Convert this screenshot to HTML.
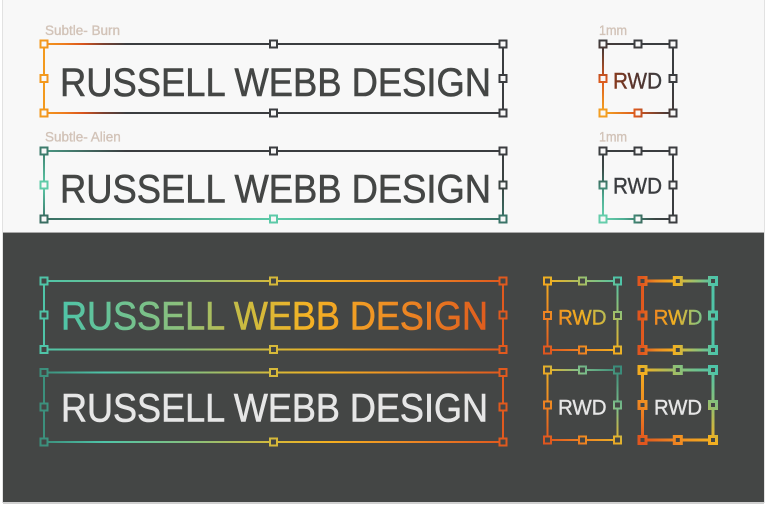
<!DOCTYPE html>
<html>
<head>
<meta charset="utf-8">
<style>
  html, body { margin: 0; padding: 0; background: #ffffff; }
  body { width: 768px; height: 509px; overflow: hidden; }
  svg { display: block; }
  text { font-family: "Liberation Sans", "DejaVu Sans", sans-serif; }
</style>
</head>
<body>
<svg width="768" height="509" viewBox="0 0 768 509" xmlns="http://www.w3.org/2000/svg">
  <defs>
    <linearGradient id="burn" gradientUnits="userSpaceOnUse" x1="44" y1="0" x2="503" y2="0">
      <stop offset="0" stop-color="#f39a1e"/>
      <stop offset="0.045" stop-color="#ee7c1f"/>
      <stop offset="0.085" stop-color="#d8541e"/>
      <stop offset="0.13" stop-color="#7a4030"/>
      <stop offset="0.18" stop-color="#3b3d40"/>
      <stop offset="1" stop-color="#3b3d40"/>
    </linearGradient>

    <linearGradient id="aTop" x1="0" y1="0" x2="1" y2="0">
      <stop offset="0" stop-color="#4a9a85"/>
      <stop offset="0.18" stop-color="#3b3d40"/>
      <stop offset="1" stop-color="#3b3d40"/>
    </linearGradient>
    <linearGradient id="aBot" x1="0" y1="0" x2="1" y2="0">
      <stop offset="0" stop-color="#3a6e62"/>
      <stop offset="0.5" stop-color="#5ccaa8"/>
      <stop offset="1" stop-color="#3a7468"/>
    </linearGradient>
    <linearGradient id="aLeft" x1="0" y1="0" x2="0" y2="1">
      <stop offset="0" stop-color="#3d7c6c"/>
      <stop offset="0.5" stop-color="#5ecba9"/>
      <stop offset="1" stop-color="#3a7468"/>
    </linearGradient>
    <linearGradient id="aRight" x1="0" y1="0" x2="0" y2="1">
      <stop offset="0" stop-color="#3b3d40"/>
      <stop offset="0.5" stop-color="#3b4442"/>
      <stop offset="1" stop-color="#3a7468"/>
    </linearGradient>

    <radialGradient id="sBurn" gradientUnits="userSpaceOnUse" cx="603" cy="113" r="75">
      <stop offset="0" stop-color="#f6a823"/>
      <stop offset="0.45" stop-color="#d9561e"/>
      <stop offset="0.85" stop-color="#4b3a36"/>
      <stop offset="1" stop-color="#3b3d40"/>
    </radialGradient>
    <linearGradient id="sBurnText" gradientUnits="userSpaceOnUse" x1="613" y1="0" x2="662" y2="0">
      <stop offset="0" stop-color="#8a3a1c"/>
      <stop offset="0.45" stop-color="#55332c"/>
      <stop offset="1" stop-color="#3b3d40"/>
    </linearGradient>
    <radialGradient id="sAlien" gradientUnits="userSpaceOnUse" cx="603" cy="219" r="70">
      <stop offset="0" stop-color="#6ad4b0"/>
      <stop offset="0.3" stop-color="#4fae94"/>
      <stop offset="0.5" stop-color="#3d7a6a"/>
      <stop offset="0.75" stop-color="#3b4544"/>
      <stop offset="1" stop-color="#3b3d40"/>
    </radialGradient>

    <linearGradient id="rb1" gradientUnits="userSpaceOnUse" x1="44" y1="0" x2="503" y2="0">
      <stop offset="0" stop-color="#4fc4a8"/>
      <stop offset="0.3" stop-color="#86c07e"/>
      <stop offset="0.5" stop-color="#d6b93a"/>
      <stop offset="0.62" stop-color="#f4b020"/>
      <stop offset="0.78" stop-color="#ee8c24"/>
      <stop offset="1" stop-color="#e0591e"/>
    </linearGradient>
    <linearGradient id="rb2" gradientUnits="userSpaceOnUse" x1="44" y1="0" x2="503" y2="0">
      <stop offset="0" stop-color="#3c8f7c"/>
      <stop offset="0.13" stop-color="#4fc4a8"/>
      <stop offset="0.32" stop-color="#86c07e"/>
      <stop offset="0.5" stop-color="#d6b93a"/>
      <stop offset="0.62" stop-color="#f4b020"/>
      <stop offset="0.78" stop-color="#ee8c24"/>
      <stop offset="1" stop-color="#e0591e"/>
    </linearGradient>
    <linearGradient id="rbText" gradientUnits="userSpaceOnUse" x1="61" y1="0" x2="488" y2="0">
      <stop offset="0" stop-color="#4fc4a8"/>
      <stop offset="0.28" stop-color="#8cc07c"/>
      <stop offset="0.43" stop-color="#ccbb40"/>
      <stop offset="0.58" stop-color="#f4b224"/>
      <stop offset="0.75" stop-color="#ef9224"/>
      <stop offset="1" stop-color="#e05c1e"/>
    </linearGradient>

    <linearGradient id="gA" gradientUnits="userSpaceOnUse" x1="547" y1="350" x2="618" y2="281">
      <stop offset="0" stop-color="#e0561e"/>
      <stop offset="0.25" stop-color="#ee8422"/>
      <stop offset="0.5" stop-color="#f2b020"/>
      <stop offset="0.75" stop-color="#a0c06a"/>
      <stop offset="1" stop-color="#4fc4a8"/>
    </linearGradient>
    <linearGradient id="gB" gradientUnits="userSpaceOnUse" x1="642" y1="0" x2="713" y2="0">
      <stop offset="0" stop-color="#e0561e"/>
      <stop offset="0.2" stop-color="#ee8a22"/>
      <stop offset="0.45" stop-color="#f2b020"/>
      <stop offset="0.7" stop-color="#a8c064"/>
      <stop offset="1" stop-color="#4fc4a8"/>
    </linearGradient>
    <linearGradient id="gC" gradientUnits="userSpaceOnUse" x1="547" y1="440" x2="618" y2="370">
      <stop offset="0" stop-color="#e0561e"/>
      <stop offset="0.3" stop-color="#f08c22"/>
      <stop offset="0.5" stop-color="#e8b028"/>
      <stop offset="0.72" stop-color="#80c08a"/>
      <stop offset="1" stop-color="#3a8c7a"/>
    </linearGradient>
    <linearGradient id="gD" gradientUnits="userSpaceOnUse" x1="642" y1="440" x2="713" y2="370">
      <stop offset="0" stop-color="#e0561e"/>
      <stop offset="0.25" stop-color="#f08a22"/>
      <stop offset="0.5" stop-color="#f2b020"/>
      <stop offset="0.75" stop-color="#90c074"/>
      <stop offset="1" stop-color="#4fc4a8"/>
    </linearGradient>
  </defs>

  <!-- card backgrounds -->
  <rect x="2" y="0" width="763" height="503" fill="#e2e2e2"/>
  <rect x="3" y="0" width="761" height="232" fill="#f8f8f8"/>
  <rect x="3" y="232" width="761" height="1" fill="#a9a9a9"/>
  <rect x="3" y="233" width="761" height="269" fill="#444645"/>
  <rect x="3" y="502" width="761" height="2" fill="#d0d0d0"/>

  <!-- labels -->
  <g fill="#d2c3b8" stroke="#d2c3b8" stroke-width="0.35">
    <text x="45" y="35" font-size="13.5">Subtle- Burn</text>
    <text x="45" y="141.5" font-size="13.5">Subtle- Alien</text>
    <text x="599" y="35" font-size="13.5" textLength="28" lengthAdjust="spacingAndGlyphs">1mm</text>
    <text x="599" y="141.5" font-size="13.5" textLength="28" lengthAdjust="spacingAndGlyphs">1mm</text>
  </g>

  <!-- Box 1: Burn -->
  <g stroke="url(#burn)" stroke-width="2" fill="#f8f8f8">
    <rect x="44" y="44" width="459" height="69" fill="none"/>
    <rect x="40.5" y="40.5" width="7" height="7"/>
    <rect x="270" y="40.5" width="7" height="7"/>
    <rect x="499.5" y="40.5" width="7" height="7"/>
    <rect x="40.5" y="75" width="7" height="7"/>
    <rect x="499.5" y="75" width="7" height="7"/>
    <rect x="40.5" y="109.5" width="7" height="7"/>
    <rect x="270" y="109.5" width="7" height="7"/>
    <rect x="499.5" y="109.5" width="7" height="7"/>
  </g>
  <text x="60" y="96" font-size="40" fill="#444645" stroke="#444645" stroke-width="0.6" textLength="431" lengthAdjust="spacingAndGlyphs">RUSSELL WEBB DESIGN</text>

  <!-- Box 2: Alien -->
  <rect x="43" y="150" width="461" height="2" fill="url(#aTop)"/>
  <rect x="43" y="218" width="461" height="2" fill="url(#aBot)"/>
  <rect x="43" y="150" width="2" height="70" fill="url(#aLeft)"/>
  <rect x="502" y="150" width="2" height="70" fill="url(#aRight)"/>
  <g stroke-width="2" fill="#f8f8f8">
    <rect x="40.5" y="147.5" width="7" height="7" stroke="#3d7c6c"/>
    <rect x="270" y="147.5" width="7" height="7" stroke="#3b3d40"/>
    <rect x="499.5" y="147.5" width="7" height="7" stroke="#3b3d40"/>
    <rect x="40.5" y="181.5" width="7" height="7" stroke="#5ecba9"/>
    <rect x="499.5" y="181.5" width="7" height="7" stroke="#3b4442"/>
    <rect x="40.5" y="215.5" width="7" height="7" stroke="#3a6e62"/>
    <rect x="270" y="215.5" width="7" height="7" stroke="#5ccaa8"/>
    <rect x="499.5" y="215.5" width="7" height="7" stroke="#3a7468"/>
  </g>
  <text x="60" y="202.5" font-size="40" fill="#444645" stroke="#444645" stroke-width="0.6" textLength="431" lengthAdjust="spacingAndGlyphs">RUSSELL WEBB DESIGN</text>

  <!-- Small Burn -->
  <g stroke="url(#sBurn)" stroke-width="2" fill="#f8f8f8">
    <rect x="603" y="44" width="70" height="69" fill="none"/>
    <rect x="599.5" y="40.5" width="7" height="7"/>
    <rect x="634.5" y="40.5" width="7" height="7"/>
    <rect x="669.5" y="40.5" width="7" height="7"/>
    <rect x="599.5" y="75" width="7" height="7"/>
    <rect x="669.5" y="75" width="7" height="7"/>
    <rect x="599.5" y="109.5" width="7" height="7"/>
    <rect x="634.5" y="109.5" width="7" height="7"/>
    <rect x="669.5" y="109.5" width="7" height="7"/>
  </g>
  <text x="613" y="88.3" font-size="22.5" fill="url(#sBurnText)" stroke="url(#sBurnText)" stroke-width="0.4" textLength="49" lengthAdjust="spacingAndGlyphs">RWD</text>

  <!-- Small Alien -->
  <g stroke="url(#sAlien)" stroke-width="2" fill="#f8f8f8">
    <rect x="603" y="151" width="70" height="68" fill="none"/>
    <rect x="599.5" y="147.5" width="7" height="7"/>
    <rect x="634.5" y="147.5" width="7" height="7"/>
    <rect x="669.5" y="147.5" width="7" height="7"/>
    <rect x="599.5" y="181.5" width="7" height="7"/>
    <rect x="669.5" y="181.5" width="7" height="7"/>
    <rect x="599.5" y="215.5" width="7" height="7"/>
    <rect x="634.5" y="215.5" width="7" height="7"/>
    <rect x="669.5" y="215.5" width="7" height="7"/>
  </g>
  <text x="613" y="193.5" font-size="22.5" fill="#3b3d40" stroke="#3b3d40" stroke-width="0.4" textLength="49" lengthAdjust="spacingAndGlyphs">RWD</text>

  <!-- Box 3 -->
  <g stroke="url(#rb1)" stroke-width="2" fill="#444645">
    <rect x="44" y="281" width="459" height="68.5" fill="none"/>
    <rect x="40.5" y="277.5" width="7" height="7"/>
    <rect x="270" y="277.5" width="7" height="7"/>
    <rect x="499.5" y="277.5" width="7" height="7"/>
    <rect x="40.5" y="311.5" width="7" height="7"/>
    <rect x="499.5" y="311.5" width="7" height="7"/>
    <rect x="40.5" y="346" width="7" height="7"/>
    <rect x="270" y="346" width="7" height="7"/>
    <rect x="499.5" y="346" width="7" height="7"/>
  </g>
  <text x="61" y="329.5" font-size="39.5" fill="url(#rbText)" stroke="url(#rbText)" stroke-width="0.6" textLength="427" lengthAdjust="spacingAndGlyphs">RUSSELL WEBB DESIGN</text>

  <!-- Box 4 -->
  <g stroke="url(#rb2)" stroke-width="2" fill="#444645">
    <rect x="44" y="372.5" width="459" height="69.5" fill="none"/>
    <rect x="40.5" y="369" width="7" height="7"/>
    <rect x="270" y="369" width="7" height="7"/>
    <rect x="499.5" y="369" width="7" height="7"/>
    <rect x="40.5" y="403.5" width="7" height="7"/>
    <rect x="499.5" y="403.5" width="7" height="7"/>
    <rect x="40.5" y="438.5" width="7" height="7"/>
    <rect x="270" y="438.5" width="7" height="7"/>
    <rect x="499.5" y="438.5" width="7" height="7"/>
  </g>
  <text x="61" y="421.7" font-size="39.5" fill="#e6e6e6" stroke="#e6e6e6" stroke-width="0.6" textLength="427" lengthAdjust="spacingAndGlyphs">RUSSELL WEBB DESIGN</text>

  <!-- Dark small A -->
  <g stroke="url(#gA)" stroke-width="2" fill="#444645">
    <rect x="547.5" y="281" width="70" height="69" fill="none"/>
    <rect x="544" y="277.5" width="7" height="7"/>
    <rect x="579" y="277.5" width="7" height="7"/>
    <rect x="614" y="277.5" width="7" height="7"/>
    <rect x="544" y="312" width="7" height="7"/>
    <rect x="614" y="312" width="7" height="7"/>
    <rect x="544" y="346.5" width="7" height="7"/>
    <rect x="579" y="346.5" width="7" height="7"/>
    <rect x="614" y="346.5" width="7" height="7"/>
  </g>
  <text x="558" y="324.3" font-size="21.5" fill="url(#gA)" stroke="url(#gA)" stroke-width="0.4" textLength="48.5" lengthAdjust="spacingAndGlyphs">RWD</text>

  <!-- Dark small B -->
  <g stroke="url(#gB)" stroke-width="3" fill="#444645">
    <rect x="642.5" y="281" width="70.5" height="69" fill="none"/>
    <rect x="639" y="277.5" width="7" height="7"/>
    <rect x="674.3" y="277.5" width="7" height="7"/>
    <rect x="709.5" y="277.5" width="7" height="7"/>
    <rect x="639" y="312" width="7" height="7"/>
    <rect x="709.5" y="312" width="7" height="7"/>
    <rect x="639" y="346.5" width="7" height="7"/>
    <rect x="674.3" y="346.5" width="7" height="7"/>
    <rect x="709.5" y="346.5" width="7" height="7"/>
  </g>
  <text x="653.5" y="324.3" font-size="21.5" fill="url(#gB)" stroke="url(#gB)" stroke-width="0.4" textLength="49" lengthAdjust="spacingAndGlyphs">RWD</text>

  <!-- Dark small C -->
  <g stroke="url(#gC)" stroke-width="2" fill="#444645">
    <rect x="547.5" y="370" width="70" height="70" fill="none"/>
    <rect x="544" y="366.5" width="7" height="7"/>
    <rect x="579" y="366.5" width="7" height="7"/>
    <rect x="614" y="366.5" width="7" height="7"/>
    <rect x="544" y="401.5" width="7" height="7"/>
    <rect x="614" y="401.5" width="7" height="7"/>
    <rect x="544" y="436.5" width="7" height="7"/>
    <rect x="579" y="436.5" width="7" height="7"/>
    <rect x="614" y="436.5" width="7" height="7"/>
  </g>
  <text x="558" y="414.3" font-size="21.5" fill="#e6e6e6" stroke="#e6e6e6" stroke-width="0.4" textLength="48.5" lengthAdjust="spacingAndGlyphs">RWD</text>

  <!-- Dark small D -->
  <g stroke="url(#gD)" stroke-width="3" fill="#444645">
    <rect x="642.5" y="370" width="70.5" height="70" fill="none"/>
    <rect x="639" y="366.5" width="7" height="7"/>
    <rect x="674.3" y="366.5" width="7" height="7"/>
    <rect x="709.5" y="366.5" width="7" height="7"/>
    <rect x="639" y="401.5" width="7" height="7"/>
    <rect x="709.5" y="401.5" width="7" height="7"/>
    <rect x="639" y="436.5" width="7" height="7"/>
    <rect x="674.3" y="436.5" width="7" height="7"/>
    <rect x="709.5" y="436.5" width="7" height="7"/>
  </g>
  <text x="654" y="414.3" font-size="21.5" fill="#e6e6e6" stroke="#e6e6e6" stroke-width="0.4" textLength="48" lengthAdjust="spacingAndGlyphs">RWD</text>
</svg>
</body>
</html>
